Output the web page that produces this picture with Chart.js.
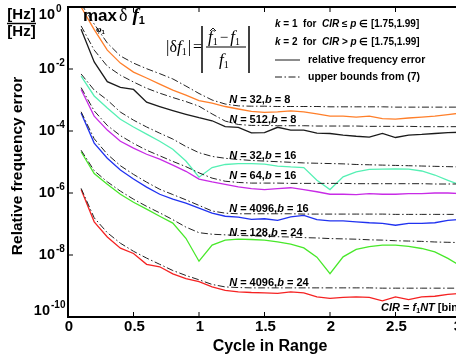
<!DOCTYPE html>
<html>
<head>
<meta charset="utf-8">
<script src="https://cdn.jsdelivr.net/npm/chart.js@4.4.0/dist/chart.umd.min.js"></script>
<style>
  html, body { margin: 0; padding: 0; background: #fff; overflow: hidden; }
  #wrap { width: 470px; height: 358px; }
</style>
</head>
<body>
<div id="wrap"><canvas id="chart" width="470" height="358"></canvas></div>
<script>
// --- Data (log10 of relative frequency error) ---
var cycles = [0.1, 0.2, 0.3, 0.4, 0.5, 0.6, 0.7, 0.8, 0.9, 1.0,
              1.1, 1.2, 1.3, 1.4, 1.5, 1.6, 1.7, 1.8, 1.9, 2.0,
              2.1, 2.2, 2.3, 2.4, 2.5, 2.6, 2.7, 2.8, 2.9, 3.0];

var seriesNames = ['N = 32, b = 8', 'N = 512, b = 8', 'N = 32, b = 16', 'N = 64, b = 16',
                   'N = 4096, b = 16', 'N = 128, b = 24', 'N = 4096, b = 24'];

var err32b8   = [0.00, -0.73, -1.39, -1.81, -2.10, -2.29, -2.49, -2.68, -2.84, -3.02,
                 -3.10, -3.21, -3.29, -3.37, -3.40, -3.38, -3.35, -3.38, -3.45, -3.52,
                 -3.52, -3.55, -3.52, -3.60, -3.62, -3.58, -3.55, -3.52, -3.47, -3.42];
var bound32b8 = [0.10, -0.55, -1.16, -1.58, -1.81, -1.99, -2.15, -2.32, -2.55, -2.79,
                 -3.00, -3.13, -3.19, -3.20, -3.20, -3.21, -3.21, -3.21, -3.21, -3.22,
                 -3.22, -3.22, -3.22, -3.22, -3.23, -3.23, -3.23, -3.23, -3.23, -3.23];

var err512b8   = [-0.72, -1.77, -2.41, -2.59, -2.66, -3.07, -3.21, -3.34, -3.46, -3.57,
                  -3.67, -3.86, -3.88, -4.06, -4.05, -3.88, -3.97, -3.97, -4.07, -4.08,
                  -4.13, -4.17, -4.20, -4.08, -4.21, -4.13, -4.11, -4.08, -4.05, -4.04];
var bound512b8 = [-0.61, -1.39, -1.91, -2.20, -2.42, -2.62, -2.78, -2.92, -3.05, -3.20,
                  -3.45, -3.68, -3.79, -3.82, -3.82, -3.83, -3.83, -3.83, -3.84, -3.84,
                  -3.84, -3.84, -3.85, -3.85, -3.85, -3.85, -3.86, -3.86, -3.86, -3.86];

var err32b16   = [-2.23, -2.87, -3.26, -3.62, -3.87, -4.10, -4.33, -4.59, -4.97, -5.49,
                  -5.18, -5.08, -5.05, -5.05, -5.07, -5.13, -5.16, -5.18, -5.59, -5.89,
                  -5.48, -5.32, -5.24, -5.23, -5.22, -5.23, -5.29, -5.42, -5.59, -5.75];
var bound32b16 = [-2.16, -2.68, -3.00, -3.39, -3.65, -3.87, -4.07, -4.26, -4.50, -4.70,
                  -4.82, -4.88, -4.92, -4.95, -4.97, -4.99, -5.01, -5.03, -5.04, -5.05,
                  -5.06, -5.08, -5.09, -5.10, -5.11, -5.12, -5.13, -5.14, -5.15, -5.16];

var err64b16   = [-2.66, -3.52, -3.97, -4.33, -4.55, -4.75, -4.91, -5.10, -5.30, -5.55,
                  -5.64, -5.72, -5.80, -5.86, -5.89, -5.86, -5.83, -5.89, -5.96, -6.04,
                  -6.04, -6.05, -6.02, -6.04, -6.04, -6.02, -6.02, -6.00, -6.00, -6.02];
var bound64b16 = [-2.60, -3.35, -3.82, -4.15, -4.40, -4.62, -4.80, -4.98, -5.15, -5.35,
                  -5.52, -5.62, -5.66, -5.68, -5.68, -5.68, -5.69, -5.69, -5.69, -5.69,
                  -5.69, -5.70, -5.70, -5.70, -5.70, -5.70, -5.70, -5.71, -5.71, -5.71];

var err4096b16   = [-3.42, -4.39, -4.88, -5.26, -5.55, -5.81, -6.04, -6.20, -6.33, -6.49,
                    -6.65, -6.75, -6.78, -6.85, -6.83, -6.88, -6.77, -6.72, -6.86, -6.90,
                    -6.90, -6.93, -6.96, -6.98, -7.04, -6.98, -6.98, -6.96, -6.88, -6.85];
var bound4096b16 = [-3.38, -4.25, -4.75, -5.12, -5.40, -5.65, -5.88, -6.05, -6.22, -6.40,
                    -6.58, -6.65, -6.67, -6.67, -6.67, -6.67, -6.67, -6.68, -6.68, -6.68,
                    -6.68, -6.68, -6.68, -6.68, -6.69, -6.69, -6.69, -6.69, -6.69, -6.69];

var err128b24   = [-4.67, -5.37, -5.72, -6.04, -6.30, -6.52, -6.75, -6.97, -7.46, -8.20,
                   -7.68, -7.52, -7.49, -7.50, -7.52, -7.58, -7.65, -7.77, -8.07, -8.60,
                   -8.06, -7.82, -7.73, -7.68, -7.68, -7.72, -7.79, -7.90, -8.11, -8.36];
var bound128b24 = [-4.62, -5.28, -5.64, -5.94, -6.20, -6.43, -6.64, -6.86, -7.10, -7.28,
                   -7.33, -7.35, -7.37, -7.38, -7.40, -7.41, -7.42, -7.44, -7.45, -7.47,
                   -7.48, -7.49, -7.51, -7.52, -7.54, -7.55, -7.56, -7.58, -7.59, -7.60];

var err4096b24   = [-5.89, -6.93, -7.42, -7.78, -7.95, -8.30, -8.38, -8.61, -8.76, -8.86,
                    -9.03, -9.14, -9.19, -9.21, -9.22, -9.24, -9.19, -9.22, -9.35, -9.40,
                    -9.37, -9.35, -9.37, -9.48, -9.35, -9.44, -9.35, -9.33, -9.27, -9.24];
var bound4096b24 = [-5.85, -6.80, -7.28, -7.62, -7.88, -8.10, -8.30, -8.50, -8.66, -8.80,
                    -8.95, -9.03, -9.05, -9.06, -9.06, -9.06, -9.06, -9.06, -9.06, -9.06,
                    -9.06, -9.06, -9.06, -9.07, -9.07, -9.07, -9.07, -9.07, -9.07, -9.07];

var xTicks = [0, 0.5, 1, 1.5, 2, 2.5, 3];
var xTickLabels = ['0', '0.5', '1', '1.5', '2', '2.5', '3'];
var yTickExps = [0, -2, -4, -6, -8, -10];

var errSeries   = [err32b8, err512b8, err32b16, err64b16, err4096b16, err128b24, err4096b24];
var boundSeries = [bound32b8, bound512b8, bound32b16, bound64b16, bound4096b16, bound128b24, bound4096b24];

// --- Styles ---
var seriesColors = ['#ff7f2a', '#1a1a1a', '#55f0b4', '#c82be6', '#2032f0', '#48e82a', '#f52222'];
var SANS = '"Liberation Sans", Arial, sans-serif';
var SERIF = '"Liberation Serif", "Times New Roman", serif';
var DASHDOT = [7, 2.5, 1.5, 2.5];

// label anchors in data coordinates (x, log10 y)
var labelAnchors = [[1.23, -3.00], [1.23, -3.63], [1.23, -4.81], [1.23, -5.46],
                    [1.23, -6.50], [1.23, -7.29], [1.23, -8.90]];

function toPoints(exps) {
  return exps.map(function(e, i) { return { x: cycles[i], y: Math.pow(10, e) }; });
}

var datasets = [];
boundSeries.forEach(function(b, i) {
  datasets.push({
    label: 'bound ' + seriesNames[i],
    data: toPoints(b),
    borderColor: '#222222',
    borderWidth: 1,
    borderDash: DASHDOT,
    pointRadius: 0,
    tension: 0,
    fill: false
  });
});
errSeries.forEach(function(s, i) {
  datasets.push({
    label: seriesNames[i],
    data: toPoints(s),
    borderColor: seriesColors[i],
    borderWidth: 1.3,
    pointRadius: 0,
    tension: 0,
    fill: false
  });
});

// draw a run of differently styled text pieces, left to right
function drawRun(ctx, x, y, parts, size, family) {
  parts.forEach(function(p) {
    ctx.font = (p.s || 'bold') + ' ' + (p.size || size) + 'px ' + (p.f || family);
    ctx.fillText(p.t, x, y + (p.dy || 0));
    x += ctx.measureText(p.t).width + (p.gap || 0);
  });
  return x;
}

function line(ctx, x1, y1, x2, y2) {
  ctx.beginPath(); ctx.moveTo(x1, y1); ctx.lineTo(x2, y2); ctx.stroke();
}

var decorPlugin = {
  id: 'decor',
  afterDraw: function(chart) {
    var ctx = chart.ctx;
    var a = chart.chartArea;
    var xs = chart.scales.x, ys = chart.scales.y;
    ctx.save();
    ctx.fillStyle = '#000';
    ctx.strokeStyle = '#000';

    // box + inward ticks
    ctx.lineWidth = 2;
    ctx.strokeRect(a.left, a.top, a.right - a.left, a.bottom - a.top);
    ctx.lineWidth = 1;
    xTicks.forEach(function(t) {
      var px = xs.getPixelForValue(t);
      line(ctx, px, a.bottom, px, a.bottom - 5);
      line(ctx, px, a.top, px, a.top + 5);
    });
    yTickExps.forEach(function(e) {
      var py = ys.getPixelForValue(Math.pow(10, e));
      line(ctx, a.left, py, a.left + 5, py);
      line(ctx, a.right, py, a.right - 5, py);
    });

    // x tick labels (last one sits at the cut right edge)
    ctx.textBaseline = 'middle';
    ctx.textAlign = 'center';
    ctx.font = 'bold 15px ' + SANS;
    xTicks.forEach(function(t, i) {
      var px = xs.getPixelForValue(t) + 1;
      if (i === xTicks.length - 1) px = 458;
      ctx.fillText(xTickLabels[i], px, 327);
    });

    // y tick labels 10^e
    yTickExps.forEach(function(e) {
      var py = ys.getPixelForValue(Math.pow(10, e));
      if (e === 0) py += 8;
      if (e === -10) py -= 6;
      var baseRight = e <= -10 ? 50 : 55;
      ctx.textAlign = 'right';
      ctx.font = 'bold 14.5px ' + SANS;
      ctx.fillText('10', baseRight, py);
      ctx.textAlign = 'left';
      ctx.font = 'bold 10px ' + SANS;
      ctx.fillText(String(e), baseRight + 1, py - 6);
    });

    // axis titles
    ctx.textAlign = 'center';
    ctx.font = 'bold 16px ' + SANS;
    ctx.fillText('Cycle in Range', 270, 347);
    ctx.save();
    ctx.translate(18, 166);
    ctx.rotate(-Math.PI / 2);
    ctx.font = 'bold 15.5px ' + SANS;
    ctx.fillText('Relative frequency error', 0, 0);
    ctx.restore();

    // unit fraction [Hz]/[Hz]
    ctx.font = 'bold 15px ' + SANS;
    ctx.fillText('[Hz]', 21.5, 15);
    ctx.fillText('[Hz]', 21.5, 31.5);
    ctx.lineWidth = 1.5;
    line(ctx, 7, 23.5, 36, 23.5);

    ctx.textAlign = 'left';
    // max over phi1 of delta f1
    drawRun(ctx, 83, 16, [
      { t: 'max', s: 'bold', size: 17, f: SANS, gap: 2 },
      { t: 'δ', s: 'normal', size: 18, f: SERIF, gap: 5 },
      { t: 'f', s: 'italic bold', size: 19, f: SERIF },
      { t: '1', s: 'bold', size: 11, f: SANS, dy: 5 }
    ], 17, SANS);
    drawRun(ctx, 96, 30, [
      { t: 'φ', s: 'bold', size: 9, f: SERIF },
      { t: '1', s: 'bold', size: 6, f: SANS, dy: 2 }
    ], 9, SERIF);

    // formula |δf1| = |(f^1 - f1)/f1|
    drawRun(ctx, 166, 48, [
      { t: '|', s: 'normal', size: 17 },
      { t: 'δ', s: 'normal', size: 16 },
      { t: 'f', s: 'italic', size: 17 },
      { t: '1', s: 'normal', size: 10, dy: 4, gap: 1 },
      { t: '|', s: 'normal', size: 17, gap: 2 },
      { t: '=', s: 'normal', size: 16 }
    ], 16, SERIF);
    ctx.lineWidth = 1.5;
    line(ctx, 202, 26, 202, 73);
    line(ctx, 249, 26, 249, 73);
    ctx.lineWidth = 1.1;
    line(ctx, 206, 47, 246, 47);
    drawRun(ctx, 208, 38, [
      { t: 'f', s: 'italic', size: 17 },
      { t: '1', s: 'normal', size: 10, dy: 4, gap: 2 },
      { t: '−', s: 'normal', size: 15, gap: 2 },
      { t: 'f', s: 'italic', size: 17 },
      { t: '1', s: 'normal', size: 10, dy: 4 }
    ], 16, SERIF);
    // hat over the estimated f
    ctx.lineWidth = 0.9;
    ctx.beginPath();
    ctx.moveTo(210, 31); ctx.lineTo(213, 28); ctx.lineTo(216, 31);
    ctx.stroke();
    drawRun(ctx, 219, 61, [
      { t: 'f', s: 'italic', size: 17 },
      { t: '1', s: 'normal', size: 10, dy: 4 }
    ], 16, SERIF);

    // k legend text
    drawRun(ctx, 275, 24, [
      { t: 'k', s: 'italic bold' }, { t: ' = 1  for  ' }, { t: 'CIR', s: 'italic bold' },
      { t: ' ≤ ' }, { t: 'p', s: 'italic bold' }, { t: ' ∈ ' }, { t: '[1.75,1.99]' }
    ], 10, SANS);
    drawRun(ctx, 275, 42, [
      { t: 'k', s: 'italic bold' }, { t: ' = 2  for  ' }, { t: 'CIR', s: 'italic bold' },
      { t: ' > ' }, { t: 'p', s: 'italic bold' }, { t: ' ∈ ' }, { t: '[1.75,1.99]' }
    ], 10, SANS);

    // legend samples
    ctx.lineWidth = 1;
    ctx.strokeStyle = '#1a1a1a';
    line(ctx, 275, 60, 300, 60);
    ctx.setLineDash(DASHDOT);
    line(ctx, 275, 77, 300, 77);
    ctx.setLineDash([]);
    ctx.font = 'bold 10.5px ' + SANS;
    ctx.fillText('relative frequency error', 308, 60);
    ctx.fillText('upper bounds from (7)', 308, 77);

    // series labels
    seriesNames.forEach(function(name, i) {
      var m = name.match(/N = (\d+), b = (\d+)/);
      var px = xs.getPixelForValue(labelAnchors[i][0]);
      var py = ys.getPixelForValue(Math.pow(10, labelAnchors[i][1]));
      drawRun(ctx, px, py, [
        { t: 'N', s: 'italic bold' }, { t: ' = ' + m[1] + ',' },
        { t: 'b', s: 'italic bold' }, { t: ' = ' + m[2] }
      ], 11, SANS);
    });

    // CIR definition
    drawRun(ctx, xs.getPixelForValue(2.39), ys.getPixelForValue(Math.pow(10, -9.72)), [
      { t: 'CIR', s: 'italic bold' }, { t: ' = ' }, { t: 'f', s: 'italic bold' },
      { t: '1', s: 'bold', size: 7, dy: 3 }, { t: 'NT', s: 'italic bold' }, { t: ' [bin]' }
    ], 11, SANS);

    ctx.restore();
  }
};

new Chart(document.getElementById('chart'), {
  type: 'line',
  data: { datasets: datasets },
  options: {
    responsive: false,
    animation: false,
    devicePixelRatio: 1,
    layout: { padding: { left: 68, top: 7, right: 9, bottom: 41 } },
    plugins: { legend: { display: false }, tooltip: { enabled: false } },
    scales: {
      x: { type: 'linear', min: 0, max: 3, display: false },
      y: { type: 'logarithmic', min: 1e-10, max: 1, display: false }
    }
  },
  plugins: [decorPlugin]
});
</script>
</body>
</html>
